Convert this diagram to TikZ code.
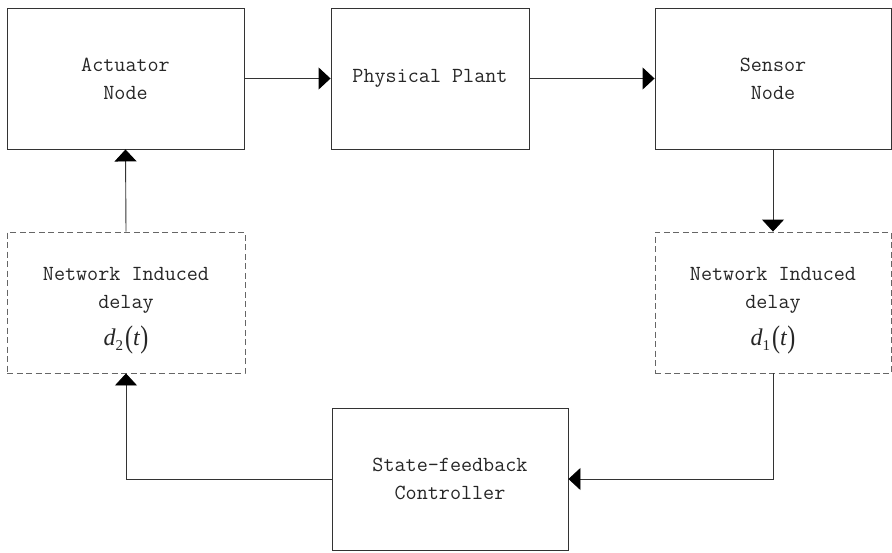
\documentclass[tikz,border=0pt]{standalone}
\usepackage{fontspec}
\usepackage{graphicx}
\newfontfamily\tnr{Liberation Serif}
\usetikzlibrary{arrows.meta}
\newcommand{\dly}[1]{{\tnr\fontsize{24}{24}\selectfont\itshape d\raisebox{-5pt}{\upshape\fontsize{15}{15}\selectfont #1}\hspace{2pt}\upshape\raisebox{-2pt}{\scalebox{1}[1.3]{(}}\itshape t\/\upshape\raisebox{-2pt}{\scalebox{1}[1.3]{)}}}}
\tikzset{
  blk/.style={draw=black!80, line width=0.9pt, rectangle, align=center,
    font=\ttfamily\fontsize{21.5}{28}\selectfont, text=black!85, inner sep=0pt},
  dblk/.style={blk, draw=black!60, dash pattern=on 6pt off 3.5pt},
  txt/.style={font=\ttfamily\fontsize{21.5}{28}\selectfont, text=black!85, align=center},
  arr/.style={draw=black!80, line width=0.9pt, -{Triangle[length=12pt,width=22pt,color=black,fill=black]}}
}
\begin{document}
\begin{tikzpicture}[x=1pt,y=-1pt]
\useasboundingbox (0,0) rectangle (892,552);
\node[blk, minimum width=237pt, minimum height=141pt] (act) at (125.5,78.5) {Actuator\\Node};
\node[blk, minimum width=198pt, minimum height=141pt] (plant) at (430,78.5) {Physical Plant};
\node[blk, minimum width=236pt, minimum height=141pt] (sens) at (773,78.5) {Sensor\\Node};
\node[dblk, minimum width=238pt, minimum height=141pt] (d2) at (126,302.5) {};
\node[dblk, minimum width=236pt, minimum height=141pt] (d1) at (773,302.5) {};
\node[blk, minimum width=236pt, minimum height=142pt] (ctrl) at (450,479) {State-feedback\\Controller};
\node[txt] (t2) at (126,311) {Network Induced\\delay\\[9pt]\dly{2}};
\node[txt] (t1) at (773,311) {Network Induced\\delay\\[9pt]\dly{1}};
\draw[arr] (act.east) -- (plant.west);
\draw[arr] (plant.east) -- (sens.west);
\draw[arr] (sens.south) -- (d1.north);
\draw[arr] (d1.south) |- (ctrl.east);
\draw[arr] (ctrl.west) -| (d2.south);
\draw[arr] (d2.north) -- (act.south);
\end{tikzpicture}
\end{document}
